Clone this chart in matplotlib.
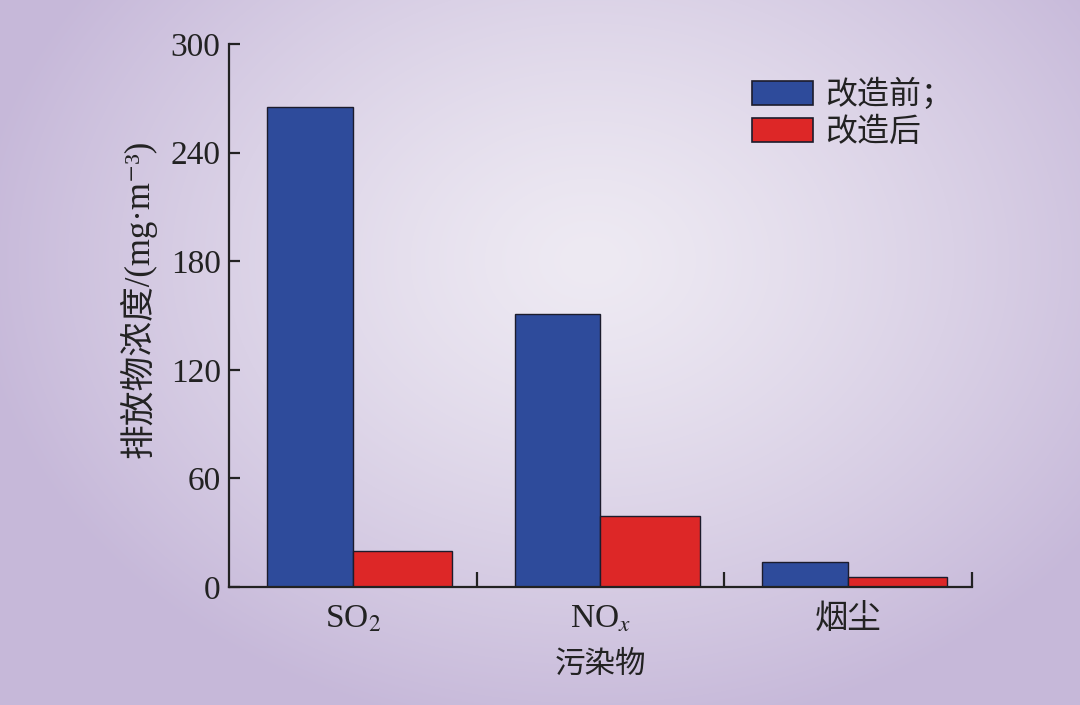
"""Emission concentration before/after retrofit, grouped bars."""

import matplotlib

matplotlib.use("Agg")
import matplotlib.pyplot as plt
import numpy as np
from matplotlib.patches import Patch

categories = ["SO$_2$", "NO$_x$", "烟尘"]
before = [265, 151, 14]
after = [20, 39, 5.5]
series_names = ["改造前；", "改造后"]
yticks = [0, 60, 120, 180, 240, 300]

BLUE = "#2e4b9b"
RED = "#dd2727"
EDGE = "#1c1c2c"
TEXT = "#222222"

# serif first for latin glyphs, CJK font picks up the Chinese characters
MIXED = ["Liberation Serif", "Noto Sans CJK SC", "DejaVu Sans"]
plt.rcParams["mathtext.fontset"] = "stix"

fig = plt.figure(figsize=(10.8, 7.05), dpi=100)

# radial lavender background
bg = fig.add_axes([0, 0, 1, 1], zorder=-10)
h, w = 705, 1080
yy, xx = np.mgrid[0:h, 0:w]
r = np.sqrt(((xx - 590) / 620.0) ** 2 + ((yy - 260) / 480.0) ** 2)
t = np.clip(r, 0, 1) ** 1.3
c0 = np.array([0xee, 0xea, 0xf3]) / 255.0
c1 = np.array([0xc6, 0xb8, 0xd9]) / 255.0
img = c0[None, None, :] * (1 - t[..., None]) + c1[None, None, :] * t[..., None]
bg.imshow(img, aspect="auto", extent=[0, 1, 0, 1])
bg.axis("off")

ax = fig.add_axes([0.212, 0.1674, 0.688, 0.7702])
ax.patch.set_alpha(0)

x = np.arange(len(categories))
w_before, w_after = 0.347, 0.40
ax.bar(x, before, width=-w_before, align="edge", color=BLUE, edgecolor=EDGE, linewidth=1.0)
ax.bar(x, after, width=w_after, align="edge", color=RED, edgecolor=EDGE, linewidth=1.0)

ax.set_xlim(-0.5, 2.5)
ax.set_ylim(0, 300)
ax.set_yticks(yticks)
ax.set_xticks(x)
ax.set_xticklabels(categories)
ax.set_xticks([0.5, 1.5, 2.5], minor=True)

for side in ("top", "right"):
    ax.spines[side].set_visible(False)
for side in ("left", "bottom"):
    ax.spines[side].set_color(TEXT)
    ax.spines[side].set_linewidth(1.6)

ax.tick_params(axis="y", direction="in", length=8, width=1.6, color=TEXT, pad=6)
ax.tick_params(axis="x", which="major", length=0, pad=12)
ax.tick_params(axis="x", which="minor", direction="in", length=11, width=1.6, color=TEXT)

for lab in ax.get_yticklabels():
    lab.set_family(MIXED)
    lab.set_fontsize(24)
    lab.set_color(TEXT)
for lab in ax.get_xticklabels():
    lab.set_family(MIXED)
    lab.set_fontsize(24)
    lab.set_color(TEXT)

ax.set_xlabel("污染物", family=MIXED, fontsize=22, color=TEXT, labelpad=12)
ax.set_ylabel("排放物浓度/(mg·m⁻³)", family=MIXED, fontsize=25, color=TEXT)
ax.yaxis.set_label_coords(-0.098, 0.53)

handles = [
    Patch(facecolor=BLUE, edgecolor=EDGE, linewidth=1.2),
    Patch(facecolor=RED, edgecolor=EDGE, linewidth=1.2),
]
leg = fig.legend(
    handles,
    series_names,
    loc="upper left",
    bbox_to_anchor=(752 / 1080, 1 - 79 / 705),
    frameon=False,
    borderpad=0,
    borderaxespad=0,
    handlelength=1.9,
    handleheight=0.8,
    handletextpad=0.4,
    labelspacing=0.2,
    prop={"family": MIXED, "size": 23},
)
for txt in leg.get_texts():
    txt.set_color(TEXT)

fig.savefig("out.png", dpi=100)
